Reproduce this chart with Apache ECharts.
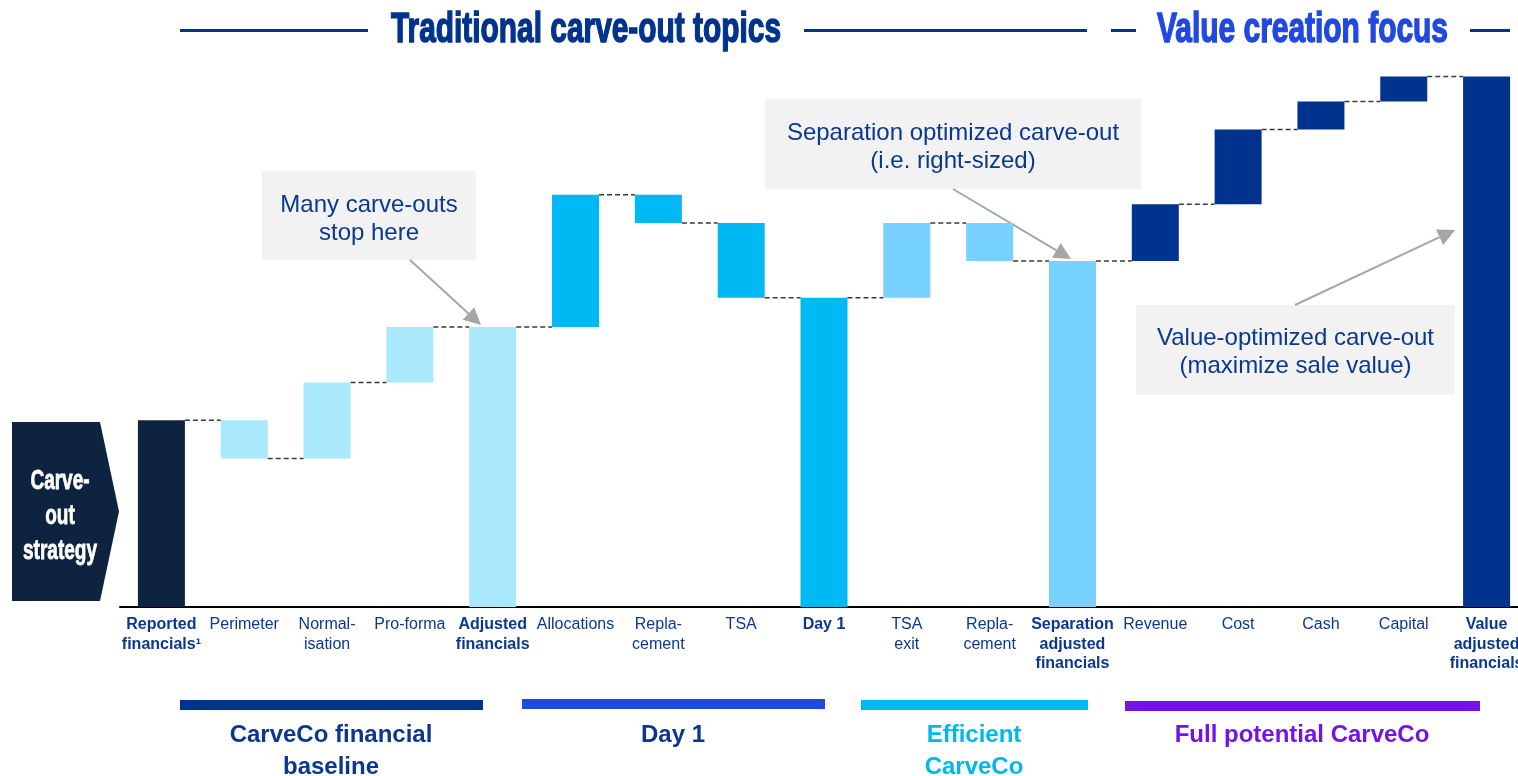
<!DOCTYPE html>
<html>
<head>
<meta charset="utf-8">
<script src="https://cdn.jsdelivr.net/npm/echarts@6/dist/echarts.min.js"></script>
<style>
  html, body { margin: 0; padding: 0; background: #fff; }
  #mychart { width: 1518px; height: 776px; }
</style>
</head>
<body>
<div id="mychart"></div>
<script>
// categories along the bridge
const categories = [
  'Reported\nfinancials¹', 'Perimeter', 'Normal-\nisation', 'Pro-forma', 'Adjusted\nfinancials',
  'Allocations', 'Repla-\ncement', 'TSA', 'Day 1',
  'TSA\nexit', 'Repla-\ncement', 'Separation\nadjusted\nfinancials',
  'Revenue', 'Cost', 'Cash', 'Capital', 'Value\nadjusted\nfinancials'
];
// step values (null = subtotal bar, drawn from zero)
const steps = [35.2, -7.2, 14.3, 10.5, null, 24.9, -5.3, -14.1, null, 14.1, -7.2, null, 10.7, 14.1, 5.3, 4.7, null];
// which labels are bold
const boldLabels = [true, false, false, false, true, false, false, false, true, false, false, true, false, false, false, false, true];
// phase of each bar (picks the colour)
const phase = [0, 1, 1, 1, 1, 2, 2, 2, 2, 3, 3, 3, 4, 4, 4, 4, 4];

const phaseColors = ['#0E2340', '#AAE8FC', '#00B9F4', '#78D2FF', '#00338D'];
const textBlue = '#0A378F';

// build the waterfall: invisible base + visible part
const base = [], visible = [], levels = [];
let run = 0;
steps.forEach((s, i) => {
  if (s === null) {
    base.push(0);
    visible.push(+run.toFixed(2));
  } else if (s >= 0) {
    base.push(+run.toFixed(2));
    visible.push(s);
    run += s;
  } else {
    base.push(+(run + s).toFixed(2));
    visible.push(-s);
    run += s;
  }
  levels.push(+run.toFixed(2));
});
// connectors from each bar to the next
const connectors = levels.slice(0, -1).map((v, i) => [i, v]);

const myChart = echarts.init(document.getElementById('mychart'));

// measure text so condensed headings can be squeezed to width
const ctx = document.createElement('canvas').getContext('2d');
function squeeze(text, font, target) {
  ctx.font = font;
  return target / ctx.measureText(text).width;
}

function arrow(x1, y1, x2, y2) {
  const a = Math.atan2(y2 - y1, x2 - x1);
  const L = 17, W = 8.5;
  const bx = x2 - L * Math.cos(a), by = y2 - L * Math.sin(a);
  return [
    { type: 'line', shape: { x1: x1, y1: y1, x2: bx, y2: by }, style: { stroke: '#A6A6A6', lineWidth: 2 } },
    { type: 'polygon', shape: { points: [[x2, y2], [bx - W * Math.sin(a), by + W * Math.cos(a)], [bx + W * Math.sin(a), by - W * Math.cos(a)]] }, style: { fill: '#A6A6A6' } }
  ];
}

function noteBox(x, y, w, h, text, cy) {
  return [
    { type: 'rect', shape: { x: x, y: y, width: w, height: h }, style: { fill: '#F2F2F2' } },
    { type: 'text', x: x + w / 2, y: cy, style: { text: text, align: 'center', verticalAlign: 'middle', fontSize: 24, lineHeight: 28.5, fontFamily: 'Liberation Sans, Arial', fill: textBlue } }
  ];
}

const headFont = 'bold 43px "Liberation Sans"';
const chevFont = 'bold 28px "Liberation Sans"';

const graphics = [
  // header rules
  { type: 'line', shape: { x1: 180, y1: 30.5, x2: 368, y2: 30.5 }, style: { stroke: '#00338D', lineWidth: 3 } },
  { type: 'line', shape: { x1: 804, y1: 30.5, x2: 1087, y2: 30.5 }, style: { stroke: '#00338D', lineWidth: 3 } },
  { type: 'line', shape: { x1: 1111, y1: 30.5, x2: 1136, y2: 30.5 }, style: { stroke: '#00338D', lineWidth: 3 } },
  { type: 'line', shape: { x1: 1470, y1: 30.5, x2: 1510, y2: 30.5 }, style: { stroke: '#00338D', lineWidth: 3 } },
  { type: 'text', x: 586, y: 30, scaleX: squeeze('Traditional carve-out topics', headFont, 390),
    style: { text: 'Traditional carve-out topics', align: 'center', verticalAlign: 'middle', font: headFont, fill: '#00338D', stroke: '#00338D', lineWidth: 1.5 } },
  { type: 'text', x: 1302.5, y: 30, scaleX: squeeze('Value creation focus', headFont, 291),
    style: { text: 'Value creation focus', align: 'center', verticalAlign: 'middle', font: headFont, fill: '#2148E0', stroke: '#2148E0', lineWidth: 1.5 } },
  // chevron on the left
  { type: 'polygon', shape: { points: [[12, 422], [100, 422], [119, 511.5], [100, 601], [12, 601]] }, style: { fill: '#0E2340' } },
  { type: 'text', x: 60, y: 516, scaleX: squeeze('strategy', chevFont, 74),
    style: { text: 'Carve-\nout\nstrategy', align: 'center', verticalAlign: 'middle', font: chevFont, lineHeight: 35, fill: '#fff', stroke: '#fff', lineWidth: 0.8 } },
  // callouts
  ...noteBox(262, 171, 214, 89, 'Many carve-outs\nstop here', 219.5),
  ...arrow(410, 260, 481, 325),
  ...noteBox(765, 99, 376, 90, 'Separation optimized carve-out\n(i.e. right-sized)', 147.5),
  ...arrow(953, 189, 1071, 259),
  ...noteBox(1136, 305, 319, 90, 'Value-optimized carve-out\n(maximize sale value)', 352.5),
  ...arrow(1295, 305, 1455, 230),
  // phase bands below the axis
  { type: 'rect', shape: { x: 180, y: 700, width: 303, height: 10 }, style: { fill: '#00338D' } },
  { type: 'rect', shape: { x: 522, y: 699, width: 303, height: 10 }, style: { fill: '#2049E0' } },
  { type: 'rect', shape: { x: 861, y: 700, width: 227, height: 10 }, style: { fill: '#00B8F0' } },
  { type: 'rect', shape: { x: 1125, y: 701, width: 355, height: 10 }, style: { fill: '#7513E6' } }
];
[
  ['CarveCo financial\nbaseline', 331, '#0A378F'],
  ['Day 1', 673, '#0A378F'],
  ['Efficient\nCarveCo', 974, '#00B8F0'],
  ['Full potential CarveCo', 1302, '#7513E6']
].forEach(([t, x, c]) => {
  graphics.push({ type: 'text', x: x, y: 719, style: { text: t, align: 'center', verticalAlign: 'top', fontSize: 24, fontWeight: 'bold', lineHeight: 32, fontFamily: 'Liberation Sans, Arial', fill: c } });
});

myChart.setOption({
  animation: false,
  grid: { left: 120, width: 1408, top: 76.5, bottom: 169, outerBoundsMode: 'none', containLabel: false },
  xAxis: {
    type: 'category',
    data: categories,
    axisTick: { show: false },
    axisLine: { lineStyle: { color: '#000', width: 2 } },
    axisLabel: {
      interval: 0,
      margin: 8,
      formatter: (v, i) => v.split('\n').map(l => '{' + (boldLabels[i] ? 'b' : 'n') + '|' + l + '}').join('\n'),
      rich: {
        n: { fontSize: 16, lineHeight: 19.5, color: textBlue, fontFamily: 'Liberation Sans, Arial' },
        b: { fontSize: 16, lineHeight: 19.5, color: textBlue, fontWeight: 'bold', fontFamily: 'Liberation Sans, Arial' }
      }
    }
  },
  yAxis: { type: 'value', min: 0, max: 100, show: false, splitLine: { show: false } },
  series: [
    { type: 'bar', stack: 'wf', barWidth: 47, data: base, itemStyle: { color: 'transparent' }, silent: true },
    {
      type: 'bar', stack: 'wf', barWidth: 47,
      data: visible.map((v, i) => ({ value: v, itemStyle: { color: phaseColors[phase[i]] } }))
    },
    {
      type: 'custom', z: 5, silent: true,
      data: connectors,
      renderItem: (params, api) => {
        const p = api.coord([api.value(0), api.value(1)]);
        const band = api.size([1, 0])[0];
        return {
          type: 'line',
          shape: { x1: p[0] + 23.5, y1: p[1], x2: p[0] + band - 23.5, y2: p[1] },
          style: { stroke: '#3A3A3A', lineWidth: 1.5, lineDash: [5, 3] }
        };
      }
    }
  ],
  graphic: { elements: graphics }
});

window.addEventListener('resize', () => {
  myChart.resize();
});
</script>
</body>
</html>
